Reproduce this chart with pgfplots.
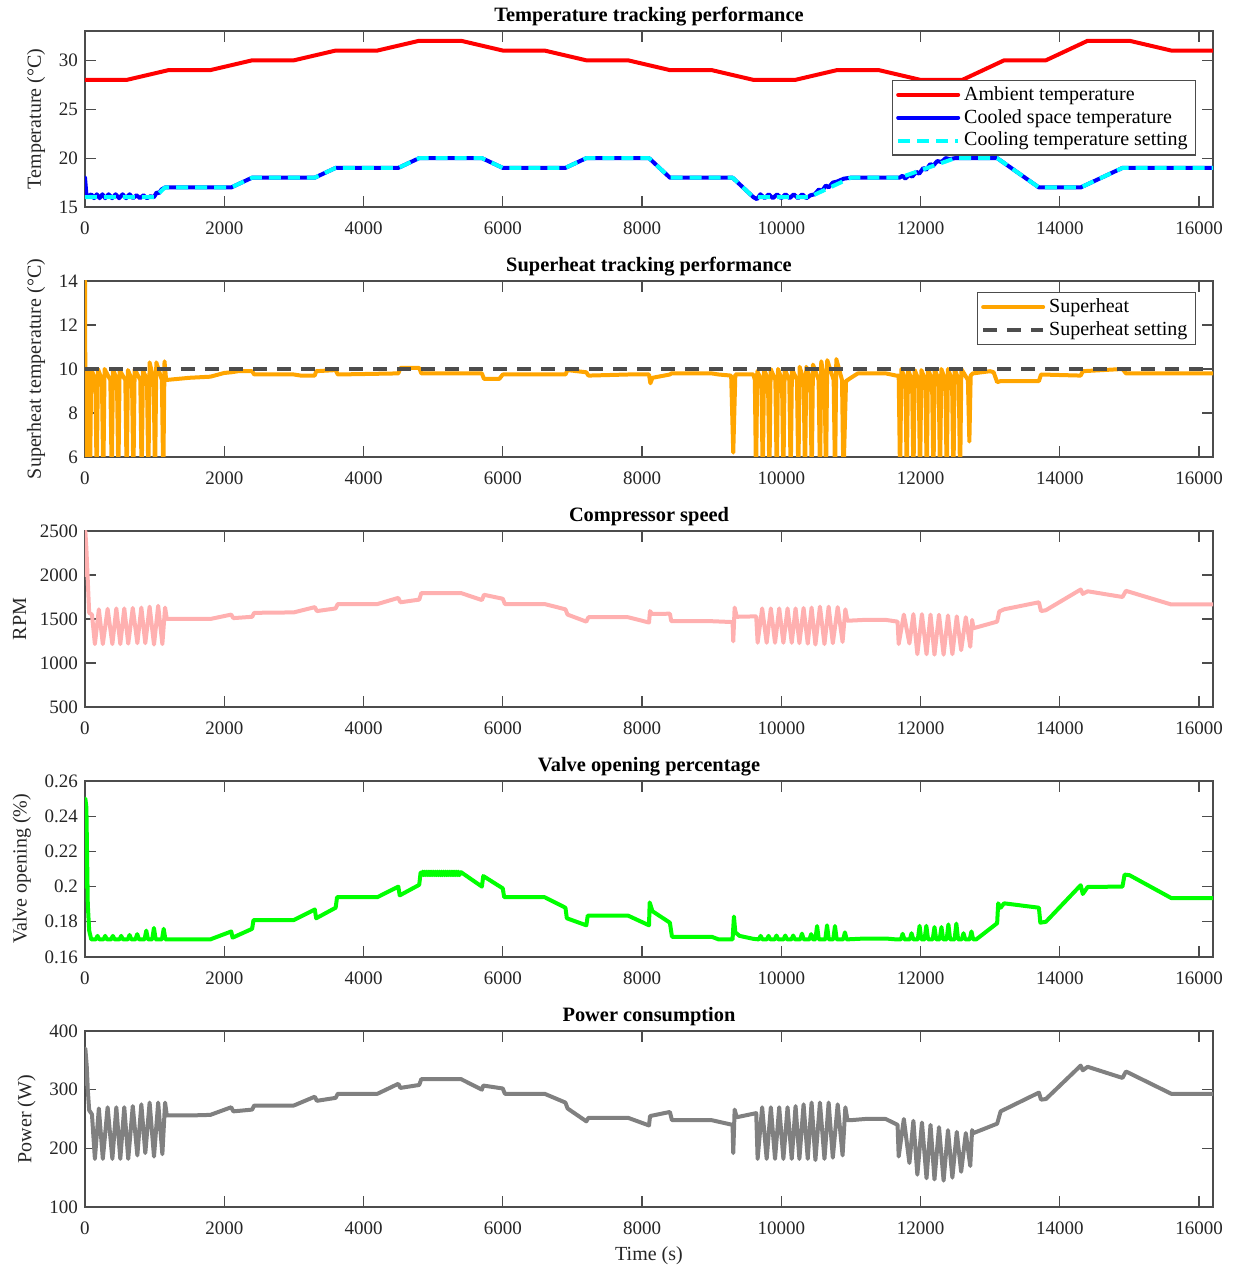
\documentclass[border=0pt]{standalone}
\usepackage{fontspec}
\setmainfont{Liberation Serif}
\usepackage{pgfplots}
\pgfplotsset{compat=1.18}
\definecolor{myorange}{RGB}{255,165,0}
\definecolor{mydgray}{RGB}{77,77,77}
\definecolor{mypink}{RGB}{255,176,176}
\definecolor{mygray}{RGB}{128,128,128}
\definecolor{mygreen}{RGB}{0,255,0}
\definecolor{myred}{RGB}{255,0,0}
\definecolor{myblue}{RGB}{0,0,255}
\definecolor{mycyan}{RGB}{0,255,255}
\pgfplotsset{
 sub/.style={
  scale only axis, width=564pt, height=88pt,
  xmin=0, xmax=16200, xtick={0,2000,...,16000},
  scaled ticks=false,
  /pgf/number format/set thousands separator={},
  /pgf/number format/assume math mode=true,
  tick align=inside, major tick length=5.5pt,
  axis line style={black!70, line width=0.6pt},
  tick style={black!70, line width=0.6pt},
  tick label style={font=\fontsize{9.5}{11}\selectfont, text=black!85},
  xticklabel style={yshift=-4pt},
  label style={font=\fontsize{10}{12}\selectfont, text=black!85},
  every axis title/.style={at={(0.5,1)}, anchor=base, yshift=4.5pt, inner sep=0pt, font=\bfseries\fontsize{10.2}{12}\selectfont},
  legend style={font=\fontsize{10}{12}\selectfont, draw=black!70, line width=0.6pt, fill=white, inner xsep=2pt, inner ysep=1pt, row sep=-1pt, cells={anchor=west}},
  legend image code/.code={\draw[##1] (0pt,0pt) -- (30pt,0pt);},
  every axis plot/.append style={line join=round, line cap=round},
 }
}
\begin{document}
\begin{tikzpicture}
% ---------- 1: temperature ----------
\begin{axis}[sub, at={(0,500pt)}, ymin=15, ymax=33, ytick={15,20,25,30},
  title={Temperature tracking performance}, ylabel={Temperature (°C)},
  legend style={at={(0.985,0.723)}, anchor=north east}]
\addplot[myred, line width=2pt] coordinates {
(0,28)(600,28)(1200,29)(1800,29)(2400,30)(3000,30)(3600,31)(4200,31)(4800,32)(5400,32)(6000,31)(6600,31)(7200,30)(7800,30)(8400,29)(9000,29)(9600,28)(10200,28)(10800,29)(11400,29)(12000,28)(12600,28)(13200,30)(13800,30)(14400,32)(15000,32)(15600,31)(16200,31)};
\addlegendentry{Ambient temperature}
\addplot[myblue, line width=2pt] coordinates {
(0,18)(20,16.3)(50,16.1)(90,16.3)(130,15.9)(170,16.3)(210,15.9)(250,16.3)(290,15.9)(340,16.3)(390,15.9)(440,16.3)(490,15.9)(540,16.3)(590,15.9)(640,16.3)(690,15.9)(740,16.2)(790,15.9)(840,16.2)(890,15.9)(940,16.1)(990,16.0)(1030,16.5)(1060,16.4)(1100,16.8)(1150,17)(2100,17)(2400,18)(3300,18)(3600,19)(4500,19)(4800,20)(5700,20)(6000,19)(6900,19)(7200,20)(8100,20)(8400,18)(9300,18)(9600,16)(9650,15.8)(9700,16.3)(9760,15.9)(9820,16.3)(9880,15.9)(9940,16.3)(10000,15.9)(10060,16.3)(10120,15.9)(10180,16.3)(10240,15.9)(10300,16.3)(10360,15.9)(10420,16.2)(10480,16.3)(10540,16.8)(10580,16.6)(10640,17.2)(10680,17.0)(10740,17.5)(10800,17.6)(10900,17.9)(11000,18)(11700,18)(11740,18.2)(11780,17.9)(11840,18.3)(11880,18.1)(11940,18.6)(11980,18.4)(12040,19.0)(12080,18.8)(12140,19.4)(12180,19.2)(12240,19.7)(12300,19.6)(12360,20.0)(12420,19.9)(12500,20)(13100,20)(13700,17)(14300,17)(14900,19)(16200,19)};
\addlegendentry{Cooled space temperature}
\addplot[mycyan, line width=2pt, line cap=butt, dash pattern=on 6pt off 3.5pt] coordinates {
(0,16)(1000,16)(1150,17)(2100,17)(2400,18)(3300,18)(3600,19)(4500,19)(4800,20)(5700,20)(6000,19)(6900,19)(7200,20)(8100,20)(8400,18)(9300,18)(9600,16)(10400,16)(11000,18)(11700,18)(12500,20)(13100,20)(13700,17)(14300,17)(14900,19)(16200,19)};
\addlegendentry{Cooling temperature setting}
\end{axis}
% ---------- 2: superheat ----------
\begin{axis}[sub, at={(0,375pt)}, ymin=6, ymax=14, ytick={6,8,10,12,14},
  title={Superheat tracking performance}, ylabel={Superheat temperature (°C)},
  legend style={at={(0.985,0.9375)}, anchor=north east}]
\addplot[myorange, line width=2pt] coordinates {
(0,14)(10,5)(30,9.95)(55,9.5)(72,5)(90,10.0)(148,9.5)(168,5)(186,10.0)(243,9.5)(263,5)(281,10.0)(364,9.5)(384,5)(402,10.0)(459,9.5)(479,5)(497,9.95)(579,9.5)(599,5)(617,9.95)(675,9.5)(695,5)(713,10.0)(794,9.5)(814,5)(832,9.95)(890,9.5)(910,5)(928,10.3)(986,9.5)(1006,5)(1024,10.3)(1104,9.5)(1124,5)(1142,10.35)(1165,9.5)
(1500,9.6)(1800,9.65)(2000,9.82)(2100,9.85)(2200,9.9)(2400,9.9)(2430,9.75)(3000,9.75)(3100,9.7)(3300,9.7)(3320,9.9)(3600,9.95)(3630,9.75)(4500,9.8)(4530,10.05)(4800,10.05)(4830,9.8)(5700,9.8)(5730,9.55)(5950,9.55)(6000,9.75)(6900,9.75)(6930,9.95)(7200,9.85)(7230,9.7)(7800,9.75)(8100,9.75)(8120,9.35)(8150,9.6)(8400,9.75)(8420,9.8)(9000,9.8)(9100,9.75)(9280,9.7)(9310,6.2)(9340,9.75)(9600,9.75)(9620,9.5)
(9637,5)(9655,9.9)(9714,9.5)(9734,5)(9752,10)(9809,9.5)(9829,5)(9847,10)(9915,9.5)(9935,5)(9953,10)(10010,9.5)(10030,5)(10048,10)(10115,9.5)(10135,5)(10153,10)(10225,9.5)(10245,5)(10263,10.1)(10321,9.5)(10341,5)(10359,10.1)(10417,9.5)(10437,5)(10455,10.2)(10536,9.5)(10556,5)(10574,10.35)(10622,9.5)(10642,5)(10660,10.4)(10752,9.5)(10772,5)(10790,10.45)(10872,9.5)(10892,5)(10930,9.45)(11000,9.6)(11100,9.8)(11500,9.8)(11650,9.7)(11686,9.7)
(11706,5)(11724,10.0)(11782,9.5)(11802,5)(11820,9.95)(11878,9.5)(11898,5)(11916,9.95)(11973,9.5)(11993,5)(12011,9.95)(12069,9.5)(12089,5)(12107,10.0)(12165,9.5)(12185,5)(12203,10.0)(12260,9.5)(12280,5)(12298,10.0)(12356,9.5)(12376,5)(12394,10.0)(12452,9.5)(12472,5)(12490,10.0)(12548,9.5)(12568,5)(12586,10.0)(12680,9.5)(12701,6.7)(12720,9.7)(12750,9.8)
(13000,9.9)(13050,9.85)(13100,9.4)(13150,9.45)(13700,9.45)(13730,9.75)(14300,9.7)(14330,9.9)(14900,10.0)(14950,9.8)(15600,9.8)(16200,9.8)};
\addlegendentry{Superheat}
\addplot[mydgray, line width=2pt, line cap=butt, dash pattern=on 7pt off 5pt] coordinates {(0,10)(16200,10)};
\addlegendentry{Superheat setting}
\end{axis}
% ---------- 3: compressor ----------
\begin{axis}[sub, at={(0,250pt)}, ymin=500, ymax=2500, ytick={500,1000,1500,2000,2500},
  title={Compressor speed}, ylabel={RPM}]
\addplot[mypink, line width=2pt] coordinates {
(0,2000)(5,2500)(20,2300)(60,1570)(100,1550)
(142,1215)(199,1610)(256,1215)(325,1615)(393,1215)(450,1620)(507,1215)(564,1620)(621,1220)(686,1625)(752,1225)(809,1630)(866,1225)(928,1640)(991,1210)(1051,1650)(1111,1215)(1150,1630)(1175,1500)
(1800,1500)(2100,1550)(2130,1510)(2400,1525)(2430,1570)(3000,1575)(3300,1635)(3330,1590)(3600,1620)(3630,1670)(4200,1670)(4500,1740)(4530,1690)(4800,1720)(4830,1795)(5400,1795)(5700,1715)(5730,1775)(6000,1730)(6030,1670)(6600,1670)(6900,1610)(6930,1550)(7200,1470)(7230,1520)(7800,1520)(8100,1460)(8115,1590)(8140,1558)(8400,1560)(8420,1475)(9000,1475)(9300,1465)(9310,1245)(9330,1630)(9360,1525)(9640,1530)
(9660,1230)(9725,1620)(9790,1230)(9850,1620)(9910,1230)(9970,1620)(10030,1230)(10090,1620)(10150,1230)(10205,1620)(10260,1225)(10320,1625)(10380,1220)(10435,1630)(10490,1210)(10555,1640)(10620,1215)(10680,1640)(10740,1225)(10810,1635)(10880,1240)(10920,1610)(10950,1480)(11200,1490)(11500,1490)(11670,1470)
(11686,1215)(11760,1550)(11840,1222)(11897,1555)(11954,1100)(12020,1555)(12086,1100)(12143,1550)(12200,1095)(12265,1548)(12331,1095)(12394,1540)(12457,1100)(12520,1530)(12583,1146)(12650,1520)(12714,1184)(12740,1490)(12760,1395)
(13100,1470)(13130,1585)(13200,1610)(13700,1690)(13730,1590)(13800,1600)(14300,1835)(14330,1785)(14400,1815)(14900,1750)(14950,1820)(15600,1665)(16200,1665)};
\end{axis}
% ---------- 4: valve ----------
\begin{axis}[sub, at={(0,125pt)}, ymin=0.16, ymax=0.26, ytick={0.16,0.18,0.2,0.22,0.24,0.26},
  title={Valve opening percentage}, ylabel={Valve opening (\%)}]
\addplot[mygreen, line width=2pt] coordinates {
(0,0.2)(5,0.25)(20,0.245)(40,0.19)(60,0.175)(90,0.17)
(155,0.17)(180,0.172)(205,0.17)(265,0.17)(290,0.172)(315,0.17)(375,0.17)(400,0.172)(425,0.17)(495,0.17)(520,0.172)(545,0.17)(615,0.17)(640,0.1725)(665,0.17)(725,0.17)(750,0.173)(775,0.17)(855,0.17)(880,0.175)(905,0.17)(965,0.17)(990,0.1765)(1015,0.17)(1105,0.17)(1130,0.176)(1155,0.17)
(1800,0.17)(2100,0.1745)(2120,0.171)(2400,0.176)(2420,0.181)(3000,0.181)(3300,0.187)(3320,0.182)(3600,0.188)(3620,0.194)(4200,0.194)(4500,0.2)(4520,0.195)(4800,0.201)(4820,0.208)
(4835,0.2065)(4850,0.2085)(4865,0.2065)(4880,0.2085)(4895,0.2065)(4910,0.2085)(4925,0.2065)(4940,0.2085)(4955,0.2065)(4970,0.2085)(4985,0.2065)(5000,0.2085)(5015,0.2065)(5030,0.2085)(5045,0.2065)(5060,0.2085)(5075,0.2065)(5090,0.2085)(5105,0.2065)(5120,0.2085)(5135,0.2065)(5150,0.2085)(5165,0.2065)(5180,0.2085)(5195,0.2065)(5210,0.2085)(5225,0.2065)(5240,0.2085)(5255,0.2065)(5270,0.2085)(5285,0.2065)(5300,0.2085)(5315,0.2065)(5330,0.2085)(5345,0.2065)(5360,0.2085)(5375,0.2065)(5400,0.2082)
(5700,0.2)(5720,0.206)(6000,0.199)(6020,0.194)(6600,0.194)(6900,0.188)(6920,0.182)(7200,0.178)(7220,0.1835)(7800,0.1835)(8100,0.178)(8110,0.191)(8150,0.186)(8400,0.1795)(8430,0.1715)(9000,0.1715)(9100,0.170)(9300,0.170)(9320,0.183)(9340,0.174)(9400,0.172)(9600,0.1703)
(9678,0.170)(9703,0.172)(9728,0.170)(9792,0.170)(9817,0.172)(9842,0.170)(9906,0.170)(9931,0.1722)(9956,0.170)(10032,0.170)(10057,0.1722)(10082,0.170)(10146,0.170)(10171,0.1722)(10196,0.170)(10272,0.170)(10297,0.1733)(10322,0.170)(10404,0.170)(10429,0.173)(10454,0.170)(10489,0.170)(10514,0.1776)(10539,0.170)(10632,0.170)(10657,0.178)(10682,0.170)(10746,0.170)(10771,0.1776)(10796,0.170)(10889,0.170)(10914,0.174)(10939,0.170)
(11200,0.1705)(11500,0.1705)(11650,0.170)
(11718,0.170)(11743,0.1732)(11768,0.170)(11846,0.170)(11871,0.1735)(11896,0.170)(11961,0.170)(11986,0.1777)(12011,0.170)(12058,0.170)(12083,0.1777)(12108,0.170)(12175,0.170)(12200,0.177)(12225,0.170)(12275,0.170)(12300,0.177)(12325,0.170)(12375,0.170)(12400,0.1785)(12425,0.170)(12489,0.170)(12514,0.179)(12539,0.170)(12592,0.170)(12617,0.1735)(12642,0.170)(12706,0.170)(12731,0.1745)(12756,0.170)
(12800,0.170)(13100,0.1792)(13115,0.1905)(13150,0.188)(13200,0.1905)(13700,0.188)(13720,0.1795)(13800,0.18)(14300,0.2008)(14330,0.1958)(14400,0.1998)(14900,0.2)(14930,0.2068)(15000,0.2065)(15600,0.1935)(16200,0.1935)};
\end{axis}
% ---------- 5: power ----------
\begin{axis}[sub, at={(0,0pt)}, ymin=100, ymax=400, ytick={100,200,300,400},
  title={Power consumption}, ylabel={Power (W)}, xlabel={Time (s)},
  xlabel style={at={(0.5,0)}, anchor=base, yshift=-27pt, inner sep=0pt}]
\addplot[mygray, line width=2pt] coordinates {
(0,310)(5,370)(25,340)(40,300)(60,265)(100,258)
(142,182)(199,268)(256,182)(325,270)(393,182)(450,270)(507,182)(564,270)(621,182)(686,272)(752,188)(809,275)(866,192)(928,278)(991,186)(1051,278)(1111,190)(1150,278)(1175,256)
(1500,256)(1800,257)(2100,270)(2130,263)(2400,266)(2430,273)(3000,273)(3300,288)(3330,281)(3600,286)(3630,293)(4200,293)(4500,310)(4530,303)(4800,308)(4830,318)(5400,318)(5700,300)(5720,307)(6000,302)(6030,293)(6600,293)(6900,278)(6930,268)(7200,246)(7230,252)(7800,252)(8100,239)(8115,255)(8400,262)(8430,248)(9000,248)(9300,240)(9310,192)(9330,266)(9360,253)(9640,260)
(9660,182)(9725,270)(9790,182)(9850,270)(9910,182)(9970,270)(10030,182)(10090,270)(10150,182)(10205,272)(10260,182)(10320,275)(10380,182)(10435,278)(10490,180)(10555,278)(10620,182)(10680,278)(10740,184)(10810,275)(10880,188)(10920,270)(10950,248)(11000,248)(11200,250)(11500,250)(11670,240)
(11686,186)(11760,250)(11840,175)(11897,247)(11954,155)(12020,244)(12086,149)(12143,240)(12200,147)(12265,236)(12331,145)(12394,231)(12457,150)(12520,228)(12583,160)(12650,226)(12714,170)(12740,231)(12760,226)
(13100,242)(13150,263)(13700,295)(13730,283)(13800,284)(14300,341)(14330,333)(14400,339)(14900,320)(14950,331)(15600,293)(16200,293)};
\end{axis}
\path (-42.5pt,-29.5pt) rectangle (574pt,603.5pt);
\end{tikzpicture}
\end{document}
